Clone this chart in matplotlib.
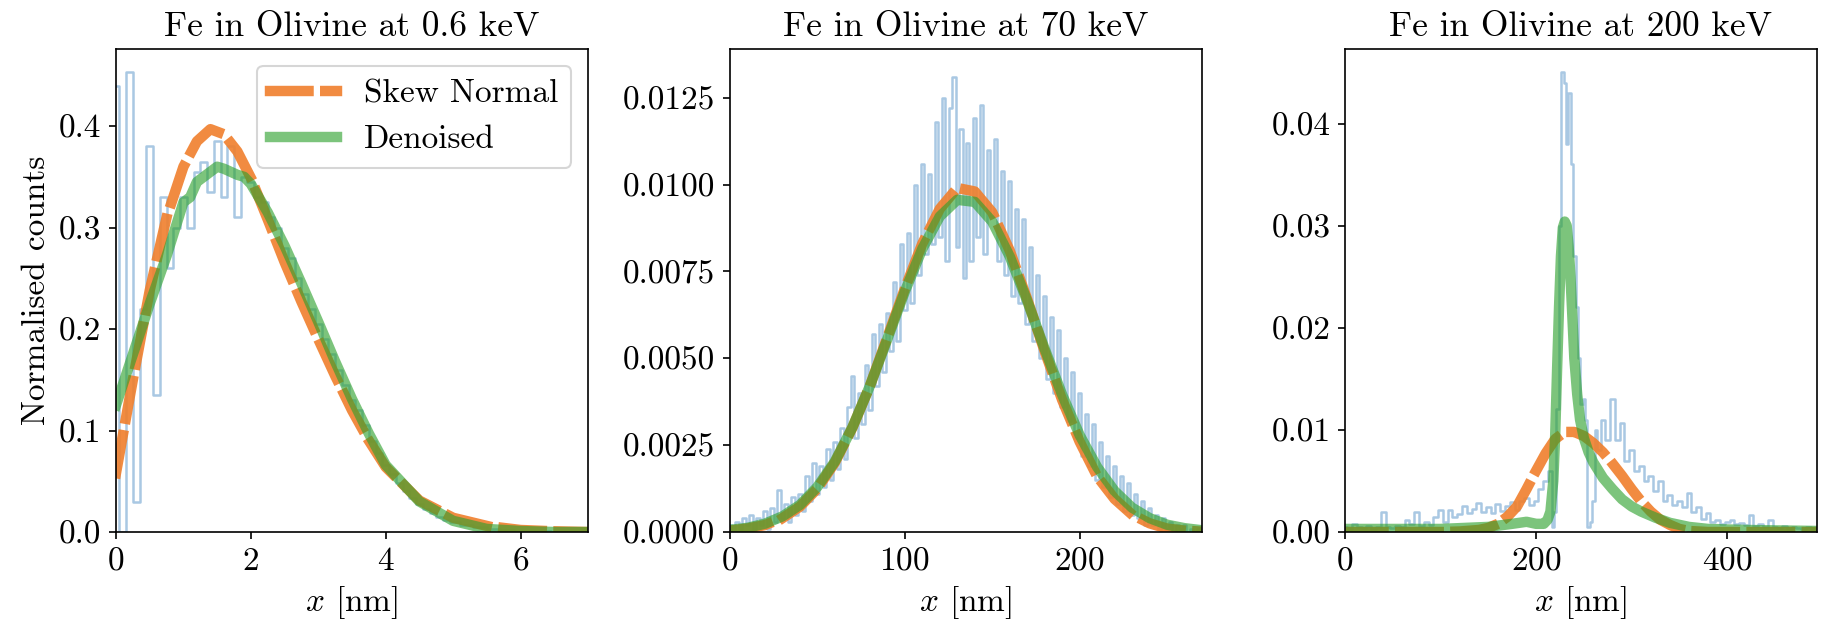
import matplotlib
matplotlib.use("Agg")
import matplotlib.pyplot as plt
from matplotlib.ticker import FormatStrFormatter

plt.rcParams.update({
    "font.family": "serif",
    "font.serif": ["cmr10"],
    "mathtext.fontset": "cm",
    "axes.formatter.use_mathtext": True,
    "axes.unicode_minus": False,
    "font.size": 16,
})

BLUE = "#a9c8e3"
ORANGE = "#f07f2c"
GREEN = "#2ca02c"

# ---- panel 1: 0.6 keV ----
x1_noise = [0.0, 0.1, 0.2, 0.3, 0.4, 0.5, 0.6, 0.7, 0.8, 0.9,
            1.0, 1.1, 1.2, 1.3, 1.4, 1.5, 1.6, 1.7, 1.8, 1.9,
            2.0, 2.1, 2.2, 2.3, 2.4, 2.5, 2.6, 2.7, 2.8, 2.9,
            3.0, 3.1, 3.2, 3.3, 3.4, 3.5, 3.6, 3.7, 3.8, 3.9,
            4.0, 4.1, 4.2, 4.3, 4.4, 4.5, 4.6, 4.7, 4.8, 4.9,
            5.0, 5.2, 5.4, 5.6, 5.8, 6.0, 6.3, 6.6, 7.0]
y1_noise = [0.44, 0.0, 0.453, 0.03, 0.22, 0.38, 0.135, 0.33, 0.26, 0.30,
            0.33, 0.30, 0.355, 0.365, 0.335, 0.385, 0.33, 0.38, 0.31, 0.35,
            0.345, 0.33, 0.325, 0.31, 0.30, 0.28, 0.27, 0.25, 0.235, 0.22,
            0.205, 0.19, 0.175, 0.16, 0.145, 0.13, 0.12, 0.105, 0.09, 0.078,
            0.066, 0.057, 0.048, 0.04, 0.034, 0.028, 0.023, 0.019, 0.015, 0.012,
            0.010, 0.007, 0.005, 0.003, 0.002, 0.001, 0.001, 0.0, 0.0]

x1_skew = [0.0, 0.25, 0.5, 0.75, 1.0, 1.2, 1.4, 1.6, 1.8, 2.0, 2.25, 2.5, 2.75,
           3.0, 3.25, 3.5, 3.75, 4.0, 4.5, 5.0, 5.5, 6.0, 6.5, 7.0]
y1_skew = [0.058, 0.15, 0.238, 0.31, 0.36, 0.385, 0.397, 0.392, 0.375, 0.349,
           0.308, 0.266, 0.227, 0.19, 0.154, 0.12, 0.09, 0.064, 0.031, 0.014,
           0.006, 0.002, 0.0007, 0.0]

x1_den = [0.0, 0.25, 0.5, 0.75, 1.0, 1.1, 1.2, 1.3, 1.4, 1.5, 1.6, 1.7, 1.8,
          1.9, 2.0, 2.25, 2.5, 2.75, 3.0, 3.25, 3.5, 3.75, 4.0, 4.5, 5.0,
          5.5, 6.0, 6.5, 7.0]
y1_den = [0.125, 0.175, 0.225, 0.272, 0.325, 0.33, 0.345, 0.35, 0.355, 0.36,
          0.358, 0.355, 0.352, 0.35, 0.343, 0.315, 0.282, 0.245, 0.207, 0.168,
          0.131, 0.097, 0.066, 0.03, 0.011, 0.003, 0.001, 0.0, 0.0]

# ---- panel 2: 70 keV ----
x2_noise = list(range(0, 271, 2))
y2_noise = [0.0002, 0.0000, 0.0003, 0.0001, 0.0004, 0.0002, 0.0005, 0.0001, 0.0004, 0.0002,
            0.0006, 0.0001, 0.0007, 0.0003, 0.0012, 0.0004, 0.0008, 0.0003, 0.0010, 0.0005,
            0.0011, 0.0006, 0.0016, 0.0009, 0.0020, 0.0011, 0.0019, 0.0013, 0.0024, 0.0015,
            0.0026, 0.0018, 0.0030, 0.0021, 0.0036, 0.0045, 0.0027, 0.0040, 0.0031, 0.0048,
            0.0035, 0.0057, 0.0042, 0.0060, 0.0046, 0.0063, 0.0052, 0.0072, 0.0055, 0.0083,
            0.0064, 0.0086, 0.0066, 0.0100, 0.0074, 0.0106, 0.0080, 0.0103, 0.0083, 0.0118,
            0.0085, 0.0125, 0.0078, 0.0122, 0.0131, 0.0082, 0.0116, 0.0073, 0.0112, 0.0078,
            0.0119, 0.0085, 0.0123, 0.0080, 0.0110, 0.0091, 0.0113, 0.0078, 0.0104, 0.0074,
            0.0101, 0.0068, 0.0093, 0.0066, 0.0090, 0.0060, 0.0082, 0.0055, 0.0074, 0.0050,
            0.0068, 0.0044, 0.0062, 0.0040, 0.0058, 0.0036, 0.0050, 0.0032, 0.0046, 0.0027,
            0.0040, 0.0022, 0.0034, 0.0019, 0.0031, 0.0015, 0.0026, 0.0013, 0.0022, 0.0010,
            0.0019, 0.0008, 0.0016, 0.0006, 0.0014, 0.0005, 0.0011, 0.0004, 0.0009, 0.0002,
            0.0007, 0.0002, 0.0005, 0.0001, 0.0004, 0.0001, 0.0003, 0.0000, 0.0002, 0.0001,
            0.0002, 0.0000, 0.0001, 0.0000, 0.0001, 0.0000]

x2_curve = list(range(0, 271, 10))
y2_skew = [0.00004, 0.0001, 0.0002, 0.0004, 0.00073, 0.00125, 0.002, 0.003, 0.0042, 0.0056,
           0.0070, 0.0083, 0.0093, 0.0099, 0.0098, 0.0092, 0.0081, 0.0067, 0.0052, 0.0038,
           0.0026, 0.0016, 0.00095, 0.0005, 0.00025, 0.0001, 0.00004, 0.00001]
y2_den = [0.00006, 0.00012, 0.00024, 0.00045, 0.00078, 0.0013, 0.00203, 0.00301, 0.0042, 0.00555,
          0.00692, 0.00815, 0.00908, 0.00956, 0.0095, 0.00893, 0.00793, 0.00665, 0.00527, 0.00395,
          0.00279, 0.00187, 0.00118, 0.0007, 0.0004, 0.00021, 0.00011, 0.00005]

# ---- panel 3: 200 keV ----
x3_noise = [0, 5, 10, 15, 20, 25, 30, 35, 40, 45, 50, 55, 60, 65, 70, 75, 80, 85, 90, 95,
            100, 105, 110, 115, 120, 125, 130, 135, 140, 145, 150, 155, 160, 165, 170, 175,
            180, 185, 190, 195, 200, 205, 210, 215, 217.5, 220, 222.5, 225, 227.5, 230,
            232.5, 235, 237.5, 240, 242.5, 245, 247.5, 250, 252.5, 255, 257.5, 260, 262.5,
            265, 270, 275, 280, 285, 290, 295, 300, 305, 310, 315, 320, 325, 330, 335, 340,
            345, 350, 355, 360, 365, 370, 375, 380, 385, 390, 395, 400, 405, 410, 415, 420,
            425, 430, 435, 440, 445, 450, 455, 460, 465, 470, 475, 480, 485, 490, 495]
y3_noise = [0.0005, 0.0003, 0.0008, 0.0005, 0.0004, 0.0006, 0.0003, 0.0005, 0.0020, 0.0005,
            0.0004, 0.0006, 0.0005, 0.0012, 0.0008, 0.0020, 0.0006, 0.0010, 0.0007, 0.0015,
            0.0022, 0.0010, 0.0022, 0.0015, 0.0018, 0.0025, 0.0019, 0.0023, 0.0028, 0.0020,
            0.0024, 0.0019, 0.0027, 0.0021, 0.0025, 0.0029, 0.0022, 0.0030, 0.0033, 0.0026,
            0.0030, 0.0042, 0.0050, 0.0060, 0.0005, 0.0020, 0.0120, 0.0300, 0.0450, 0.0440,
            0.0380, 0.0430, 0.0360, 0.0270, 0.0220, 0.0170, 0.0125, 0.0130, 0.0110, 0.0005,
            0.0010, 0.0030, 0.0100, 0.0080, 0.0110, 0.0090, 0.0130, 0.0090, 0.0107, 0.0070,
            0.0080, 0.0060, 0.0065, 0.0050, 0.0055, 0.0040, 0.0050, 0.0030, 0.0036, 0.0026,
            0.0030, 0.0024, 0.0038, 0.0020, 0.0024, 0.0013, 0.0019, 0.0010, 0.0012, 0.0008,
            0.0010, 0.0012, 0.0008, 0.0009, 0.0007, 0.0017, 0.0006, 0.0008, 0.0005, 0.0012,
            0.0005, 0.0004, 0.0006, 0.0003, 0.0005, 0.0004, 0.0003, 0.0005, 0.0003, 0.0004]

x3_skew = [0, 100, 120, 140, 150, 160, 170, 180, 190, 200, 210, 220, 230, 240, 250, 260,
           270, 280, 290, 300, 310, 320, 330, 340, 350, 360, 380, 400, 495]
y3_skew = [0.0, 0.0, 0.00005, 0.0002, 0.0004, 0.0008, 0.0015, 0.0025, 0.0042, 0.006,
           0.0077, 0.0091, 0.0098, 0.0098, 0.0094, 0.0087, 0.0078, 0.0067, 0.0055, 0.0042,
           0.003, 0.002, 0.0012, 0.0007, 0.0003, 0.0001, 0.0, 0.0, 0.0]

x3_den = [0, 50, 100, 150, 175, 190, 200, 208, 212, 215, 218, 220, 222, 224, 226, 228,
          230, 232, 234, 236, 238, 240, 243, 246, 250, 255, 260, 270, 280, 290, 300,
          310, 325, 340, 360, 380, 420, 495]
y3_den = [0.0003, 0.0003, 0.0003, 0.0005, 0.0008, 0.001, 0.0008, 0.0008, 0.0012, 0.002,
          0.005, 0.0095, 0.016, 0.022, 0.027, 0.0298, 0.0304, 0.030, 0.028, 0.025,
          0.021, 0.017, 0.0135, 0.011, 0.0092, 0.0078, 0.0068, 0.0053, 0.0042, 0.0032,
          0.0025, 0.002, 0.0014, 0.0009, 0.0005, 0.0003, 0.0002, 0.0001]

panels = [
    ("Fe in Olivine at 0.6 keV", x1_noise, y1_noise, x1_skew, y1_skew, x1_den, y1_den,
     (0, 7), (0, 0.476), [0, 2, 4, 6], [0, 0.1, 0.2, 0.3, 0.4], "%.1f"),
    ("Fe in Olivine at 70 keV", x2_noise, y2_noise, x2_curve, y2_skew, x2_curve, y2_den,
     (0, 270), (0, 0.0139), [0, 100, 200],
     [0, 0.0025, 0.005, 0.0075, 0.01, 0.0125], "%.4f"),
    ("Fe in Olivine at 200 keV", x3_noise, y3_noise, x3_skew, y3_skew, x3_den, y3_den,
     (0, 494), (0, 0.0473), [0, 200, 400], [0, 0.01, 0.02, 0.03, 0.04], "%.2f"),
]

fig = plt.figure(figsize=(1825 / 150, 631 / 150), dpi=150)
lefts = [116 / 1825, 730 / 1825, 1345 / 1825]
bottom = 1 - 532 / 631
width = 472 / 1825
height = 483 / 631

for i, (title, xn, yn, xs, ys, xd, yd, xlim, ylim, xticks, yticks, yfmt) in enumerate(panels):
    ax = fig.add_axes([lefts[i], bottom, width, height])
    ax.step(xn, yn, where="mid", color=BLUE, lw=1.2)
    ax.plot(xs, ys, "--", color=ORANGE, lw=5, alpha=0.9,
            dash_capstyle="projecting", label="Skew Normal")
    ax.plot(xd, yd, "-", color=GREEN, lw=5, alpha=0.62, label="Denoised")
    ax.set_xlim(*xlim)
    ax.set_ylim(*ylim)
    ax.set_xticks(xticks)
    ax.set_yticks(yticks)
    ax.yaxis.set_major_formatter(FormatStrFormatter(yfmt))
    ax.set_title(title, fontsize=17)
    ax.set_xlabel(r"$x$ [nm]")
    if i == 0:
        ax.set_ylabel("Normalised counts")
        ax.legend(loc="upper right")

fig.savefig("out.png", dpi=150)
